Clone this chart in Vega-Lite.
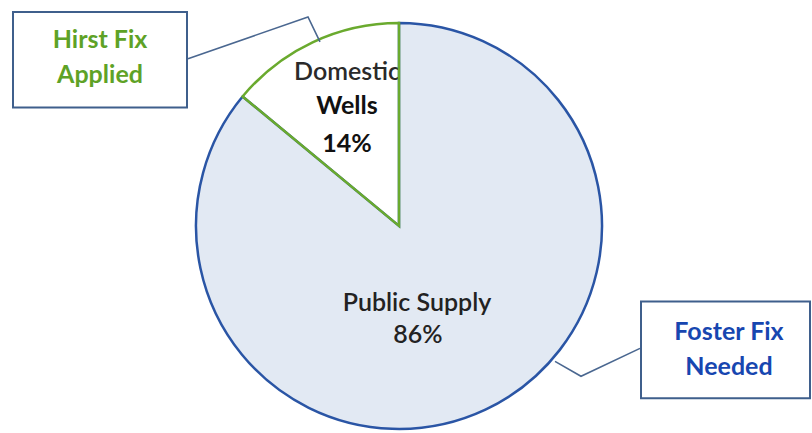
{
  "$schema": "https://vega.github.io/schema/vega-lite/v6.json",
  "width": 812,
  "height": 433,
  "autosize": {"type": "fit", "contains": "padding"},
  "padding": 0,
  "background": "white",
  "config": {"view": {"stroke": null}},
  "datasets": {
    "slices": [
      {"category": "Public Supply", "share": 86, "ord": 1},
      {"category": "Domestic Wells", "share": 14, "ord": 2}
    ],
    "boxes": [
      {"box": "Hirst", "x1": 13, "x2": 187, "y1": 12, "y2": 108},
      {"box": "Foster", "x1": 641, "x2": 810, "y1": 303, "y2": 400}
    ],
    "connectors": [
      {"box": "Hirst", "i": 1, "cx": 188, "cy": 59},
      {"box": "Hirst", "i": 2, "cx": 308, "cy": 17},
      {"box": "Hirst", "i": 3, "cx": 320, "cy": 42},
      {"box": "Foster", "i": 1, "cx": 640, "cy": 350},
      {"box": "Foster", "i": 2, "cx": 581, "cy": 378},
      {"box": "Foster", "i": 3, "cx": 555, "cy": 363}
    ],
    "labels": [
      {"group": "Hirst", "text": "Hirst Fix", "lx": 100, "ly": 48},
      {"group": "Hirst", "text": "Applied", "lx": 100, "ly": 83},
      {"group": "Foster", "text": "Foster Fix", "lx": 729, "ly": 342},
      {"group": "Foster", "text": "Needed", "lx": 729, "ly": 377},
      {"group": "DomesticName", "text": "Domestic", "lx": 347, "ly": 80},
      {"group": "DomesticBold", "text": "Wells", "lx": 347, "ly": 115},
      {"group": "DomesticBold", "text": "14%", "lx": 347, "ly": 153},
      {"group": "Public", "text": "Public Supply", "lx": 417, "ly": 312},
      {"group": "Public", "text": "86%", "lx": 418, "ly": 345}
    ]
  },
  "layer": [
    {
      "data": {"name": "labels"},
      "transform": [{"filter": "datum.group == 'DomesticName'"}],
      "mark": {"type": "text", "font": "Lato", "fontSize": 25, "fontWeight": 600, "color": "#2a2a2a", "align": "center", "baseline": "alphabetic"},
      "encoding": {
        "x": {"field": "lx", "type": "quantitative", "scale": {"domain": [0, 812], "nice": false, "zero": false}, "axis": null},
        "y": {"field": "ly", "type": "quantitative", "scale": {"domain": [0, 433], "nice": false, "zero": false, "reverse": true}, "axis": null},
        "text": {"field": "text"}
      }
    },
    {
      "data": {"name": "slices"},
      "mark": {"type": "arc", "outerRadius": 203, "strokeWidth": 2.5},
      "encoding": {
        "x": {"datum": 399, "type": "quantitative"},
        "y": {"datum": 227, "type": "quantitative"},
        "theta": {"field": "share", "type": "quantitative", "stack": true},
        "order": {"field": "ord", "type": "quantitative"},
        "fill": {"field": "category", "type": "nominal", "scale": {"domain": ["Public Supply", "Domestic Wells"], "range": ["#e2e9f3", "transparent"]}, "legend": null},
        "stroke": {"field": "category", "type": "nominal", "scale": {"domain": ["Public Supply", "Domestic Wells"], "range": ["#2a55a5", "#6aaa2e"]}, "legend": null}
      }
    },
    {
      "data": {"name": "connectors"},
      "mark": {"type": "line", "stroke": "#4a6790", "strokeWidth": 1.6},
      "encoding": {
        "x": {"field": "cx", "type": "quantitative"},
        "y": {"field": "cy", "type": "quantitative"},
        "detail": {"field": "box"},
        "order": {"field": "i", "type": "quantitative"}
      }
    },
    {
      "data": {"name": "boxes"},
      "mark": {"type": "rect", "fill": "white", "stroke": "#3f5f8c", "strokeWidth": 2},
      "encoding": {
        "x": {"field": "x1", "type": "quantitative"},
        "x2": {"field": "x2"},
        "y": {"field": "y1", "type": "quantitative"},
        "y2": {"field": "y2"}
      }
    },
    {
      "data": {"name": "labels"},
      "transform": [{"filter": "datum.group == 'Hirst'"}],
      "mark": {"type": "text", "font": "Lato", "fontSize": 25, "fontWeight": "bold", "color": "#5ea226", "align": "center", "baseline": "alphabetic"},
      "encoding": {
        "x": {"field": "lx", "type": "quantitative"},
        "y": {"field": "ly", "type": "quantitative"},
        "text": {"field": "text"}
      }
    },
    {
      "data": {"name": "labels"},
      "transform": [{"filter": "datum.group == 'Foster'"}],
      "mark": {"type": "text", "font": "Lato", "fontSize": 25, "fontWeight": "bold", "color": "#1746b0", "align": "center", "baseline": "alphabetic"},
      "encoding": {
        "x": {"field": "lx", "type": "quantitative"},
        "y": {"field": "ly", "type": "quantitative"},
        "text": {"field": "text"}
      }
    },
    {
      "data": {"name": "labels"},
      "transform": [{"filter": "datum.group == 'DomesticBold'"}],
      "mark": {"type": "text", "font": "Lato", "fontSize": 25, "fontWeight": "bold", "color": "#111111", "align": "center", "baseline": "alphabetic"},
      "encoding": {
        "x": {"field": "lx", "type": "quantitative"},
        "y": {"field": "ly", "type": "quantitative"},
        "text": {"field": "text"}
      }
    },
    {
      "data": {"name": "labels"},
      "transform": [{"filter": "datum.group == 'Public'"}],
      "mark": {"type": "text", "font": "Lato", "fontSize": 25, "fontWeight": 600, "color": "#222222", "align": "center", "baseline": "alphabetic"},
      "encoding": {
        "x": {"field": "lx", "type": "quantitative"},
        "y": {"field": "ly", "type": "quantitative"},
        "text": {"field": "text"}
      }
    }
  ]
}
